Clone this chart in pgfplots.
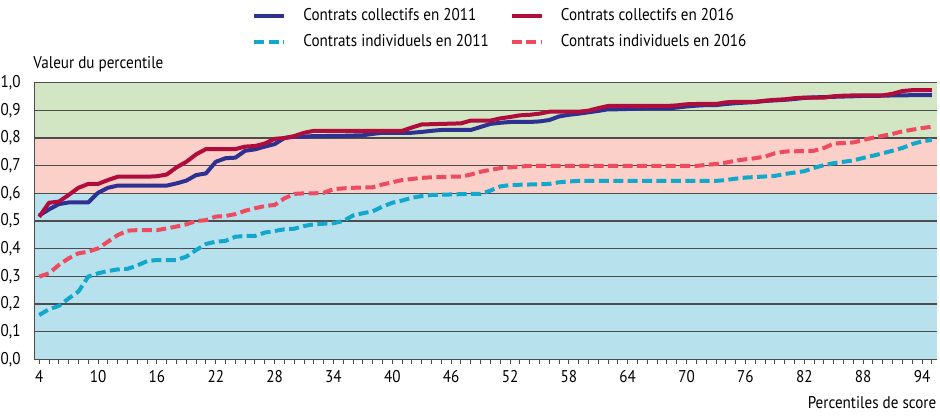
\documentclass[border=0pt]{standalone}
\usepackage{fontspec}
\setmainfont{PT Sans}[FakeStretch=0.89]
\usepackage{pgfplots}
\usepackage{pgfplotstable}
\pgfplotsset{compat=1.18}
\definecolor{Coll11}{HTML}{2E3192}
\definecolor{Coll16}{HTML}{B00C3C}
\definecolor{Ind11}{HTML}{12A8CC}
\definecolor{Ind16}{HTML}{EF4B60}
\definecolor{BandG}{HTML}{D3E6C3}
\definecolor{BandR}{HTML}{FAD0C9}
\definecolor{BandB}{HTML}{B8E1EE}
\definecolor{LineGray}{HTML}{4D4D4D}

\pgfplotstableread{
x c11 c16 i11 i16
4 0.520 0.515 0.160 0.299
5 0.542 0.566 0.181 0.311
6 0.561 0.570 0.193 0.341
7 0.567 0.594 0.220 0.365
8 0.567 0.620 0.245 0.383
9 0.567 0.634 0.299 0.389
10 0.602 0.634 0.311 0.401
11 0.620 0.648 0.319 0.425
12 0.628 0.660 0.325 0.449
13 0.628 0.660 0.327 0.465
14 0.628 0.660 0.339 0.467
15 0.628 0.660 0.355 0.467
16 0.628 0.662 0.359 0.467
17 0.628 0.668 0.359 0.473
18 0.636 0.694 0.359 0.480
19 0.646 0.714 0.371 0.488
20 0.666 0.741 0.395 0.500
21 0.672 0.760 0.417 0.503
22 0.714 0.760 0.425 0.516
23 0.727 0.760 0.428 0.518
24 0.729 0.760 0.443 0.525
25 0.754 0.769 0.446 0.537
26 0.759 0.771 0.446 0.546
27 0.769 0.780 0.458 0.554
28 0.778 0.797 0.464 0.558
29 0.800 0.800 0.470 0.582
30 0.805 0.807 0.472 0.598
31 0.805 0.819 0.482 0.600
32 0.807 0.826 0.488 0.600
33 0.807 0.826 0.490 0.602
34 0.808 0.826 0.492 0.615
35 0.808 0.826 0.500 0.618
36 0.809 0.826 0.520 0.620
37 0.810 0.826 0.528 0.621
38 0.815 0.826 0.535 0.622
39 0.819 0.826 0.552 0.632
40 0.819 0.826 0.566 0.640
41 0.819 0.826 0.574 0.648
42 0.819 0.838 0.584 0.652
43 0.822 0.849 0.590 0.656
44 0.826 0.850 0.594 0.658
45 0.829 0.851 0.595 0.659
46 0.829 0.852 0.596 0.660
47 0.829 0.853 0.597 0.660
48 0.829 0.863 0.598 0.668
49 0.840 0.863 0.598 0.678
50 0.851 0.863 0.610 0.685
51 0.855 0.871 0.625 0.691
52 0.858 0.876 0.630 0.694
53 0.858 0.882 0.631 0.697
54 0.858 0.884 0.632 0.699
55 0.860 0.888 0.633 0.699
56 0.865 0.895 0.634 0.699
57 0.878 0.895 0.640 0.699
58 0.884 0.895 0.643 0.699
59 0.888 0.895 0.645 0.699
60 0.893 0.899 0.645 0.699
61 0.898 0.908 0.645 0.699
62 0.904 0.916 0.645 0.699
63 0.904 0.916 0.645 0.699
64 0.905 0.916 0.645 0.699
65 0.906 0.916 0.645 0.699
66 0.907 0.916 0.645 0.699
67 0.907 0.916 0.645 0.699
68 0.907 0.916 0.645 0.699
69 0.910 0.918 0.645 0.699
70 0.914 0.922 0.645 0.699
71 0.917 0.923 0.645 0.699
72 0.919 0.923 0.645 0.703
73 0.919 0.923 0.645 0.706
74 0.923 0.929 0.648 0.711
75 0.926 0.931 0.653 0.718
76 0.928 0.931 0.657 0.723
77 0.930 0.931 0.659 0.727
78 0.934 0.935 0.661 0.733
79 0.936 0.938 0.663 0.745
80 0.938 0.940 0.670 0.751
81 0.941 0.944 0.675 0.752
82 0.945 0.946 0.680 0.753
83 0.947 0.946 0.692 0.754
84 0.948 0.946 0.702 0.764
85 0.949 0.951 0.709 0.780
86 0.950 0.953 0.714 0.782
87 0.951 0.954 0.719 0.784
88 0.952 0.954 0.728 0.793
89 0.952 0.954 0.736 0.801
90 0.953 0.954 0.745 0.808
91 0.954 0.960 0.754 0.815
92 0.954 0.970 0.764 0.824
93 0.955 0.973 0.778 0.830
94 0.955 0.973 0.788 0.836
95 0.955 0.973 0.793 0.841
}\percentiles

\begin{document}
\begin{tikzpicture}
\begin{axis}[
  at={(0pt,0pt)},anchor=south west,
  width=451.2pt,height=138.3pt,scale only axis,
  clip=false,
  xmin=3.5,xmax=95.5,ymin=0,ymax=1,
  axis x line=bottom,axis y line=left,
  axis line style={draw=LineGray,line width=0.6pt,-},
  xtick={4,10,...,94},minor xtick={4,...,95},
  ytick={0,0.1,...,1.0},
  tick align=outside,major tick length=2.4pt,minor tick length=2.4pt,
  xtick style={draw=LineGray,line width=0.5pt},
  ytick style={draw=none},
  tick label style={font=\fontsize{8.5}{10}\selectfont},
  xticklabel style={anchor=north,inner sep=0pt,yshift=-3pt},
  yticklabel style={anchor=east,inner sep=0pt,xshift=-4.3pt,
    /pgf/number format/.cd,fixed,fixed zerofill,precision=1,use comma,assume math mode=true},
  xticklabel style={/pgf/number format/assume math mode=true},
  legend columns=2,
  legend cell align=left,
  legend style={at={(0.2413,1.285)},anchor=north west,draw=none,fill=none,
    font=\fontsize{8.5}{10}\selectfont,inner sep=0pt,row sep=1.3pt,
    /tikz/every odd column/.append style={column sep=6.5pt},
    /tikz/every even column/.append style={column sep=8.5pt}},
  legend image code/.code={\draw[#1] (0pt,0pt) -- (15pt,0pt);},
]
% colour bands and horizontal rules behind the curves
\fill[BandB] (axis cs:3.5,0) rectangle (axis cs:95.5,0.6);
\fill[BandR] (axis cs:3.5,0.6) rectangle (axis cs:95.5,0.8);
\fill[BandG] (axis cs:3.5,0.8) rectangle (axis cs:95.5,1);
\foreach \g in {0.1,0.2,...,1.0} {
  \edef\tmp{\noexpand\draw[LineGray,line width=0.55pt] (axis cs:3.5,\g) -- (axis cs:95.5,\g);}\tmp
}
\draw[LineGray,line width=0.6pt] (axis cs:3.5,1) -- (axis cs:3.5,0) -- (axis cs:95.5,0);
\addplot[Coll11,line width=2pt,line join=round] table[x=x,y=c11] {\percentiles};
\addplot[Coll16,line width=2pt,line join=round] table[x=x,y=c16] {\percentiles};
\addplot[Ind11,line width=2pt,dash pattern=on 5pt off 2.2pt] table[x=x,y=i11] {\percentiles};
\addplot[Ind16,line width=2pt,dash pattern=on 5pt off 2.2pt] table[x=x,y=i16] {\percentiles};
\legend{Contrats collectifs en 2011,Contrats collectifs en 2016,Contrats individuels en 2011,Contrats individuels en 2016}
\node[anchor=base west,inner sep=0pt,font=\fontsize{8.5}{10}\selectfont] at (rel axis cs:0,1) [xshift=-0.6pt,yshift=7.3pt] {Valeur du percentile};
\node[anchor=base east,inner sep=0pt,font=\fontsize{8.5}{10}\selectfont] at (rel axis cs:1,0) [yshift=-24.5pt] {Percentiles de score};
\end{axis}
\pgfresetboundingbox
\useasboundingbox (-17.15pt,-28.85pt) rectangle (452.85pt,179.65pt);
\end{tikzpicture}
\end{document}
